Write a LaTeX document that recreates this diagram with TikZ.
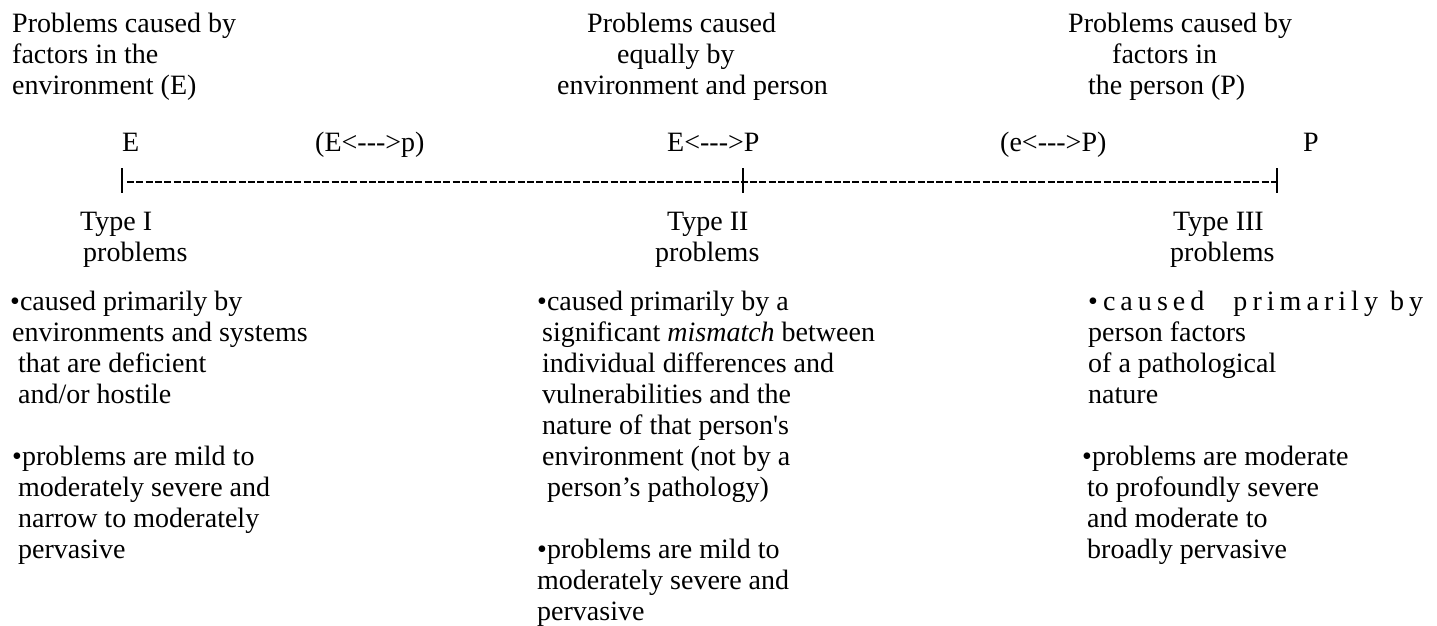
\documentclass[tikz,border=0pt]{standalone}
\usepackage{fontspec}
\newfontfamily\timesfont{Liberation Serif}
\newfontfamily\spacedfont{Liberation Serif}[LetterSpace=18]

\begin{document}
\begin{tikzpicture}[x=1pt,y=-1pt]
\tikzstyle{txtstyle}=[inner sep=0pt, anchor=base west, align=left, font=\timesfont\fontsize{28}{31}\selectfont]
\tikzstyle{dashstyle}=[line width=1.3pt, dash pattern=on 7pt off 2.3pt]
\tikzstyle{barstyle}=[line width=1.2pt]
    \useasboundingbox (0,0) rectangle (1437,626);
    \node[txtstyle] (topE) at (12,94) {Problems caused by\\factors in the\\environment (E)};
    \node[txtstyle] (topEP) at (557,94) {\hspace*{30pt}Problems caused\\\hspace*{60pt}equally by\\environment and person};
    \node[txtstyle] (topP) at (1068,94) {Problems caused by\\\hspace*{44pt}factors in\\\hspace*{20pt}the person (P)};
    \node[txtstyle] (labE) at (122,151) {E};
    \node[txtstyle] (labEp) at (315,151) {(E<--->p)};
    \node[txtstyle] (labEP) at (667,151) {E<--->P};
    \node[txtstyle] (labeP) at (1000,151) {(e<--->P)};
    \node[txtstyle] (labP) at (1303,151) {P};
    \coordinate (tickE) at (122,182);
    \coordinate (tickEP) at (743,182);
    \coordinate (tickP) at (1277,182);
    \draw[dashstyle] ([xshift=5pt]tickE) -- (tickP);
    \draw[barstyle] ([yshift=14pt]tickE) -- ([yshift=-11pt]tickE);
    \draw[barstyle] ([yshift=14pt]tickEP) -- ([yshift=-11pt]tickEP);
    \draw[barstyle] ([yshift=14pt]tickP) -- ([yshift=-11pt]tickP);
    \node[txtstyle] (typeI) at (80,261) {Type I\\\hspace*{3pt}problems};
    \node[txtstyle] (typeII) at (655,261) {\hspace*{12pt}Type II\\problems};
    \node[txtstyle] (typeIII) at (1170,261) {\hspace*{3pt}Type III\\problems};
    \node[txtstyle] (bodyE) at (10,558) {%
        •caused primarily by\\
        \hspace*{2pt}environments and systems\\
        \hspace*{8pt}that are deficient\\
        \hspace*{8pt}and/or hostile\\[31pt]
        \hspace*{2pt}•problems are mild to\\
        \hspace*{8pt}moderately severe and\\
        \hspace*{8pt}narrow to moderately\\
        \hspace*{8pt}pervasive};
    \node[txtstyle] (bodyEP) at (537,620) {%
        •caused primarily by a\\
        \hspace*{5pt}significant \textit{mismatch} between\\
        \hspace*{5pt}individual differences and\\
        \hspace*{5pt}vulnerabilities and the\\
        \hspace*{5pt}nature of that person's\\
        \hspace*{5pt}environment (not by a\\
        \hspace*{10pt}person’s pathology)\\[31pt]
        •problems are mild to\\
        moderately severe and\\
        pervasive};
    \node[txtstyle] (bodyP) at (1082,558) {%
        \hspace*{6pt}{\spacedfont •caused\hspace{17pt} primarily by}\\
        \hspace*{6pt}person factors\\
        \hspace*{6pt}of a pathological\\
        \hspace*{6pt}nature\\[31pt]
        •problems are moderate\\
        \hspace*{5pt}to profoundly severe\\
        \hspace*{5pt}and moderate to\\
        \hspace*{5pt}broadly pervasive};
\end{tikzpicture}
\end{document}
